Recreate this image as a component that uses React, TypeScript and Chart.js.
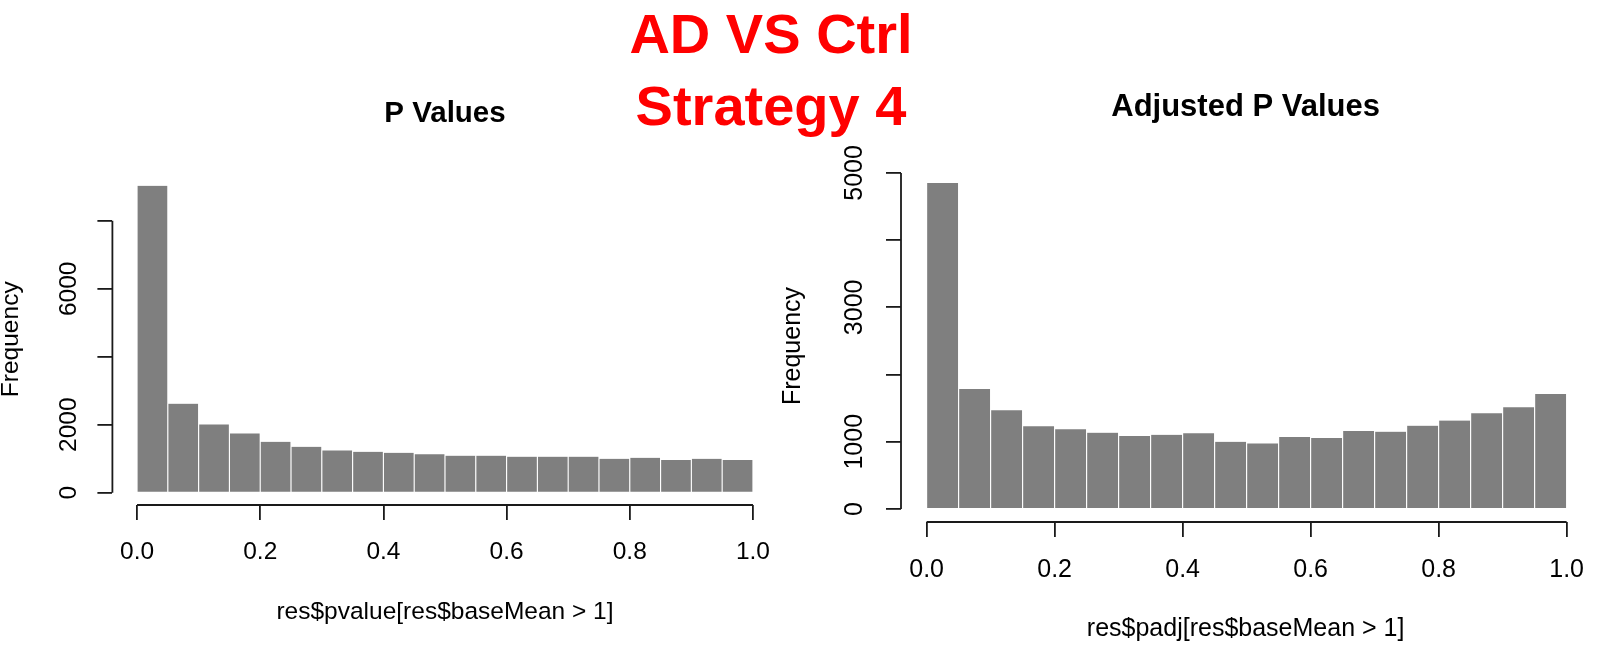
import React, { useEffect, useRef } from "react";
import { Chart, registerables } from "chart.js";

Chart.register(...registerables);

// ---- data ----
const binCenters = [
  0.025, 0.075, 0.125, 0.175, 0.225, 0.275, 0.325, 0.375, 0.425, 0.475,
  0.525, 0.575, 0.625, 0.675, 0.725, 0.775, 0.825, 0.875, 0.925, 0.975,
];
const pValueCounts = [
  9030, 2620, 2010, 1745, 1500, 1350, 1245, 1205, 1175, 1135,
  1090, 1090, 1060, 1060, 1060, 1000, 1030, 960, 1000, 960,
];
const padjCounts = [
  4850, 1785, 1470, 1230, 1185, 1135, 1085, 1105, 1125, 1000,
  975, 1070, 1055, 1160, 1150, 1240, 1315, 1425, 1515, 1710,
];
const xTickValues = [0, 0.2, 0.4, 0.6, 0.8, 1.0];
const xTickLabels = ["0.0", "0.2", "0.4", "0.6", "0.8", "1.0"];
const pValueYTicks = [0, 2000, 4000, 6000, 8000];
const pValueYLabels = ["0", "2000", "", "6000", ""];
const padjYTicks = [0, 1000, 2000, 3000, 4000, 5000];
const padjYLabels = ["0", "1000", "", "3000", "", "5000"];

const FAMILY = '"Liberation Sans", Arial, Helvetica, sans-serif';
const INK = "#1a1a1a";

const rStylePlugin = {
  id: "rStyle",
  afterDraw(chart: any, _args: any, opts: any) {
    const { ctx, chartArea, scales } = chart;
    const xs = scales.x;
    const ys = scales.y;
    ctx.save();
    ctx.strokeStyle = INK;
    ctx.lineWidth = opts.lineWidth;
    ctx.beginPath();
    ctx.moveTo(chartArea.left, ys.getPixelForValue(opts.yFirst));
    ctx.lineTo(chartArea.left, ys.getPixelForValue(opts.yLast));
    ctx.moveTo(xs.getPixelForValue(opts.xFirst), chartArea.bottom);
    ctx.lineTo(xs.getPixelForValue(opts.xLast), chartArea.bottom);
    ctx.stroke();
    ctx.fillStyle = "#000";
    ctx.font = `bold ${opts.titleSize}px ${FAMILY}`;
    ctx.textAlign = "center";
    ctx.textBaseline = "alphabetic";
    ctx.fillText(opts.title, (chartArea.left + chartArea.right) / 2, chartArea.top - opts.titleGap);
    ctx.restore();
  },
};

type Params = {
  counts: number[];
  yTicks: number[];
  yLabels: string[];
  xTitle: string;
  title: string;
  padding: { left: number; right: number; top: number; bottom: number };
  xMax: number;
  yWidth: number;
  xHeight: number;
  yTickPad: number;
  yTitlePad: number;
  fontSize: number;
  titleSize: number;
  titleGap: number;
};

function buildConfig(p: Params): any {
  const yMax = Math.max(...p.counts);
  const font = { family: FAMILY, size: p.fontSize };
  const grid = {
    display: true,
    offset: false,
    drawOnChartArea: false,
    drawTicks: true,
    tickLength: 15,
    color: INK,
    lineWidth: 1.8,
  };
  return {
    type: "bar",
    data: {
      datasets: [
        {
          data: binCenters.map((c, i) => ({ x: c, y: p.counts[i] })),
          backgroundColor: "#7f7f7f",
          borderColor: "#ffffff",
          borderWidth: { left: 0.9, right: 0.9, top: 0, bottom: 0 },
          borderSkipped: false,
          barPercentage: 1,
          categoryPercentage: 1,
          grouped: false,
        },
      ],
    },
    options: {
      responsive: false,
      animation: false,
      devicePixelRatio: 1,
      layout: { padding: p.padding },
      plugins: {
        legend: { display: false },
        tooltip: { enabled: false },
        title: { display: false },
        rStyle: {
          lineWidth: 1.8,
          yFirst: p.yTicks[0],
          yLast: p.yTicks[p.yTicks.length - 1],
          xFirst: xTickValues[0],
          xLast: xTickValues[xTickValues.length - 1],
          title: p.title,
          titleSize: p.titleSize,
          titleGap: p.titleGap,
        },
      },
      scales: {
        x: {
          type: "linear",
          min: -0.04,
          max: p.xMax,
          offset: false,
          grid,
          border: { display: false },
          ticks: {
            autoSkip: false,
            maxRotation: 0,
            minRotation: 0,
            padding: 18,
            font,
            color: "#000",
            callback: (_v: any, i: number) => xTickLabels[i],
          },
          afterBuildTicks: (s: any) => {
            s.ticks = xTickValues.map((v) => ({ value: v }));
          },
          afterFit: (s: any) => {
            s.height = p.xHeight;
          },
          title: {
            display: true,
            text: p.xTitle,
            font,
            color: "#000",
            padding: { top: 0, bottom: 0 },
          },
        },
        y: {
          type: "linear",
          min: -0.04 * yMax,
          max: 1.04 * yMax,
          grid,
          border: { display: false },
          ticks: {
            autoSkip: false,
            minRotation: 90,
            maxRotation: 90,
            crossAlign: "center",
            padding: p.yTickPad,
            font,
            color: "#000",
            callback: (_v: any, i: number) => p.yLabels[i],
          },
          afterBuildTicks: (s: any) => {
            s.ticks = p.yTicks.map((v) => ({ value: v }));
          },
          afterFit: (s: any) => {
            s.width = p.yWidth;
          },
          title: {
            display: true,
            text: "Frequency",
            font: { family: FAMILY, size: p.fontSize, lineHeight: "22px" },
            color: "#000",
            padding: { top: p.yTitlePad, bottom: 0 },
          },
        },
      },
    },
    plugins: [rStylePlugin],
  };
}

function Hist({ params, left, width }: { params: Params; left: number; width: number }) {
  const ref = useRef<HTMLCanvasElement | null>(null);
  useEffect(() => {
    if (!ref.current) return;
    const chart = new Chart(ref.current, buildConfig(params));
    return () => chart.destroy();
  }, []);
  return (
    <canvas
      ref={ref}
      width={width}
      height={649}
      style={{ position: "absolute", left, top: 0, width, height: 649 }}
    />
  );
}

const leftParams: Params = {
  counts: pValueCounts,
  yTicks: pValueYTicks,
  yLabels: pValueYLabels,
  xTitle: "res$pvalue[res$baseMean > 1]",
  title: "P Values",
  padding: { left: 0, right: 12.4, top: 173.5, bottom: 22.3 },
  xMax: 1.04,
  yWidth: 112.4,
  xHeight: 121.7,
  yTickPad: 0.7,
  yTitlePad: 0,
  fontSize: 24.5,
  titleSize: 29.5,
  titleGap: 51.5,
};

const rightParams: Params = {
  counts: padjCounts,
  yTicks: padjYTicks,
  yLabels: padjYLabels,
  xTitle: "res$padj[res$baseMean > 1]",
  title: "Adjusted P Values",
  padding: { left: 0, right: 0, top: 170, bottom: 5.3 },
  xMax: 1.0369,
  yWidth: 121,
  xHeight: 121.7,
  yTickPad: 3,
  yTitlePad: 2,
  fontSize: 25,
  titleSize: 31,
  titleGap: 54,
};

export default function App() {
  return (
    <div
      style={{
        position: "absolute",
        left: 0,
        top: 0,
        width: 1602,
        height: 649,
        background: "#ffffff",
        overflow: "hidden",
      }}
    >
      <Hist params={leftParams} left={0} width={790} />
      <Hist params={rightParams} left={780} width={822} />
      <div
        style={{
          position: "absolute",
          left: 571,
          top: -2.4,
          width: 400,
          textAlign: "center",
          fontFamily: FAMILY,
          fontWeight: "bold",
          fontSize: 56,
          lineHeight: "72px",
          color: "#ff0000",
          whiteSpace: "nowrap",
        }}
      >
        AD VS Ctrl
        <br />
        Strategy 4
      </div>
    </div>
  );
}
